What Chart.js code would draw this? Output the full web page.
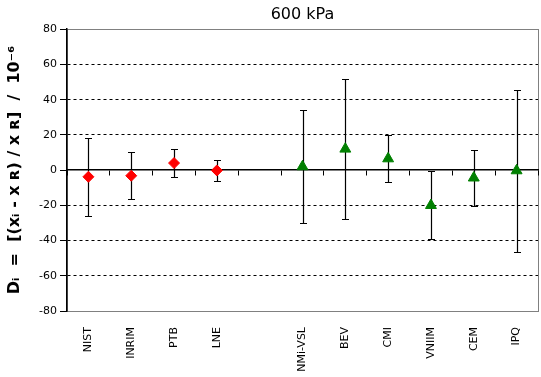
<!DOCTYPE html>
<html>
<head>
<meta charset="utf-8">
<script src="https://cdn.jsdelivr.net/npm/chart.js@4"></script>
<style>
  html, body { margin: 0; padding: 0; background: #fff; }
  #wrap { width: 541px; height: 377px; }
</style>
</head>
<body>
<div id="wrap"><canvas id="kcChart"></canvas></div>
<script>
// categories (blank slot separates the two groups)
const labs = ["NIST", "INRIM", "PTB", "LNE", "", "NMi-VSL", "BEV", "CMI", "VNIIM", "CEM", "IPQ"];

// degrees of equivalence D_i / 10^-6
const linkValues = [-3.8, -3.2, 4.0, -0.2, null, null, null, null, null, null, null];
const otherValues = [null, null, null, null, null, 2.0, 12.0, 6.5, -20.0, -4.4, -0.3];

// expanded uncertainties U(D_i) / 10^-6
const linkUnc = [22.3, 13.2, 7.7, 6.0, null, null, null, null, null, null, null];
const otherUnc = [null, null, null, null, null, 32.0, 40.0, 13.5, 19.4, 16.0, 46.0];

const yTicks = [-80, -60, -40, -20, 0, 20, 40, 60, 80];

// vertical error bars, drawn behind the markers
const errorBars = {
  id: "errorBars",
  beforeDatasetsDraw(chart) {
    const ctx = chart.ctx;
    const yScale = chart.scales.y;
    ctx.save();
    ctx.strokeStyle = "#000";
    ctx.lineWidth = 1.2;
    chart.data.datasets.forEach((ds, i) => {
      const meta = chart.getDatasetMeta(i);
      meta.data.forEach((pt, j) => {
        const v = ds.data[j];
        const u = ds.unc[j];
        if (v === null || u === null) return;
        const x = Math.round(pt.x) + 0.5;
        const top = Math.round(yScale.getPixelForValue(v + u)) + 0.5;
        const bot = Math.round(yScale.getPixelForValue(v - u)) + 0.5;
        ctx.beginPath();
        ctx.moveTo(x, top);
        ctx.lineTo(x, bot);
        ctx.moveTo(x - 3.5, top);
        ctx.lineTo(x + 3.5, top);
        ctx.moveTo(x - 3.5, bot);
        ctx.lineTo(x + 3.5, bot);
        ctx.stroke();
      });
    });
    ctx.restore();
  }
};

// grey frame round the plot area
const plotFrame = {
  id: "plotFrame",
  beforeDraw(chart) {
    const a = chart.chartArea;
    const ctx = chart.ctx;
    ctx.save();
    ctx.strokeStyle = "#808080";
    ctx.lineWidth = 1;
    ctx.strokeRect(Math.round(a.left) + 0.5, Math.round(a.top) + 0.5,
      Math.round(a.right - a.left), Math.round(a.bottom - a.top));
    ctx.restore();
  }
};

new Chart(document.getElementById("kcChart"), {
  type: "line",
  data: {
    labels: labs,
    datasets: [
      {
        label: "linking",
        data: linkValues,
        unc: linkUnc,
        showLine: false,
        pointStyle: "rectRot",
        pointRadius: 5.5,
        pointBackgroundColor: "#ff0000",
        pointBorderColor: "#ff0000",
        pointBorderWidth: 1
      },
      {
        label: "participants",
        data: otherValues,
        unc: otherUnc,
        showLine: false,
        pointStyle: "triangle",
        pointRadius: 6.3,
        pointBackgroundColor: "#008000",
        pointBorderColor: "#008000",
        pointBorderWidth: 1
      }
    ]
  },
  options: {
    responsive: true,
    maintainAspectRatio: false,
    animation: false,
    events: [],
    layout: { autoPadding: false, padding: { left: 0, right: 3, top: 0, bottom: 0 } },
    plugins: {
      legend: { display: false },
      tooltip: { enabled: false },
      title: {
        display: true,
        text: "600 kPa",
        fullSize: false,
        color: "#000",
        font: { family: "DejaVu Sans", size: 16, weight: "normal", lineHeight: 1.2 },
        padding: { top: 5, bottom: 5 }
      }
    },
    scales: {
      x: {
        type: "category",
        offset: true,
        grid: { display: false },
        border: { display: false },
        ticks: {
          color: "#000",
          font: { family: "DejaVu Sans", size: 11 },
          minRotation: 90,
          maxRotation: 90,
          autoSkip: false,
          padding: 8
        },
        afterFit(scale) {
          scale.height = 66;
          scale.paddingLeft = 0;
          scale.paddingRight = 0;
        }
      },
      x0: {
        type: "category",
        position: { y: 0 },
        offset: true,
        grid: {
          offset: true,
          drawOnChartArea: false,
          drawTicks: true,
          tickLength: 5,
          tickColor: "#000",
          tickWidth: 1
        },
        border: { display: true, color: "#000", width: 1.5 },
        ticks: { display: false }
      },
      y: {
        min: -80,
        max: 80,
        afterBuildTicks(scale) {
          scale.ticks = yTicks.map(v => ({ value: v }));
        },
        grid: {
          color: c => (c.tick && (c.tick.value === 0 || Math.abs(c.tick.value) === 80)) ? "rgba(0,0,0,0)" : "#000",
          lineWidth: 1,
          tickLength: 7,
          tickColor: "#000",
          tickBorderDash: []
        },
        border: { display: true, color: "#000", width: 1.5, dash: [3, 3] },
        ticks: {
          color: "#000",
          font: { family: "DejaVu Sans", size: 11 },
          padding: 3
        },
        title: {
          display: true,
          text: "Dᵢ  =  [(xᵢ - x ʀ) / x ʀ]  /  10⁻⁶",
          color: "#000",
          font: { family: "DejaVu Sans", size: 16, weight: "bold" },
          padding: { top: 5, bottom: 2 }
        },
        afterFit(scale) { scale.width = 67; }
      }
    }
  },
  plugins: [plotFrame, errorBars]
});
</script>
</body>
</html>
